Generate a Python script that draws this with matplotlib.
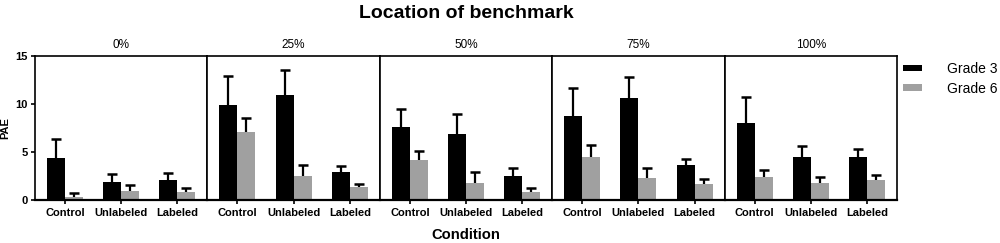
import matplotlib.pyplot as plt
import numpy as np

plt.rcParams['font.family'] = ['Liberation Sans', 'DejaVu Sans']

# panels (location of benchmark) and conditions
panels = ['0%', '25%', '50%', '75%', '100%']
conditions = ['Control', 'Unlabeled', 'Labeled']

# mean PAE per panel, one list per grade
grade3 = [[4.4, 1.9, 2.1],
          [9.9, 10.9, 2.9],
          [7.6, 6.9, 2.5],
          [8.7, 10.6, 3.65],
          [8.05, 4.45, 4.5]]
grade6 = [[0.35, 0.97, 0.8],
          [7.05, 2.47, 1.35],
          [4.13, 1.8, 0.87],
          [4.48, 2.29, 1.67],
          [2.36, 1.74, 2.12]]

# upper error (length of the error bar above the mean)
grade3_err = [[1.95, 0.8, 0.75],
              [3.0, 2.65, 0.6],
              [1.9, 2.05, 0.8],
              [2.95, 2.25, 0.65],
              [2.65, 1.2, 0.85]]
grade6_err = [[0.35, 0.56, 0.42],
              [1.53, 1.2, 0.32],
              [0.97, 1.1, 0.35],
              [1.3, 1.08, 0.48],
              [0.77, 0.69, 0.48]]

black = '#000000'
grey = '#a0a0a0'

fig = plt.figure(figsize=(10, 2.43), dpi=100)
left, right = 0.035, 0.897
bottom, top = 1 - 200 / 243, 1 - 56 / 243
pw = (right - left) / len(panels)

x = np.arange(len(conditions))
w = 0.32


def upper_errorbar(ax, xpos, vals, err):
    # only the upper half of the error bar, cap on top
    vals = np.asarray(vals)
    err = np.asarray(err)
    ax.errorbar(xpos, vals, yerr=[np.zeros_like(err), err], fmt='none',
                ecolor='black', elinewidth=1.6, capsize=0, zorder=1)
    ax.plot(xpos, vals + err, ls='none', marker='_', markersize=7,
            markeredgewidth=1.8, color='black', zorder=1)


for i, name in enumerate(panels):
    ax = fig.add_axes([left + i * pw, bottom, pw, top - bottom])
    upper_errorbar(ax, x - w / 2, grade3[i], grade3_err[i])
    upper_errorbar(ax, x + w / 2, grade6[i], grade6_err[i])
    ax.bar(x - w / 2, grade3[i], w, color=black, label='Grade 3', zorder=2)
    ax.bar(x + w / 2, grade6[i], w, color=grey, label='Grade 6', zorder=2)
    ax.set_xlim(-0.535, 2.535)
    ax.set_ylim(0, 15)
    ax.set_xticks(x)
    ax.set_xticklabels(conditions, fontsize=8, fontweight='bold')
    ax.tick_params(axis='x', length=3, width=1.2, pad=3)
    ax.set_title(name, fontsize=8.5, pad=6)
    for s in ax.spines.values():
        s.set_linewidth(1.2)
        s.set_zorder(3)
    ax.spines['bottom'].set_linewidth(1.6)
    if i == 0:
        ax.set_yticks([0, 5, 10, 15])
        ax.set_yticklabels(['0', '5', '10', '15'], fontsize=8, fontweight='bold')
        ax.tick_params(axis='y', length=3, width=1.2, pad=2)
        ax.set_ylabel('PAE', fontsize=8, fontweight='bold', labelpad=4)
    else:
        ax.set_yticks([])
    if i == len(panels) - 1:
        ax.legend(loc='upper left', bbox_to_anchor=(0.903, 1 - 62 / 243),
                  bbox_transform=fig.transFigure, frameon=False,
                  fontsize=10, handlelength=1.35, handleheight=0.35,
                  handletextpad=1.8, labelspacing=0.4,
                  borderpad=0, borderaxespad=0)

fig.text((left + right) / 2, 1 - 14 / 243, 'Location of benchmark',
         ha='center', va='center', fontsize=14, fontweight='bold')
fig.text((left + right) / 2, 1 - 235 / 243, 'Condition',
         ha='center', va='center', fontsize=10.6, fontweight='bold')

fig.savefig('out.png', dpi=100)
